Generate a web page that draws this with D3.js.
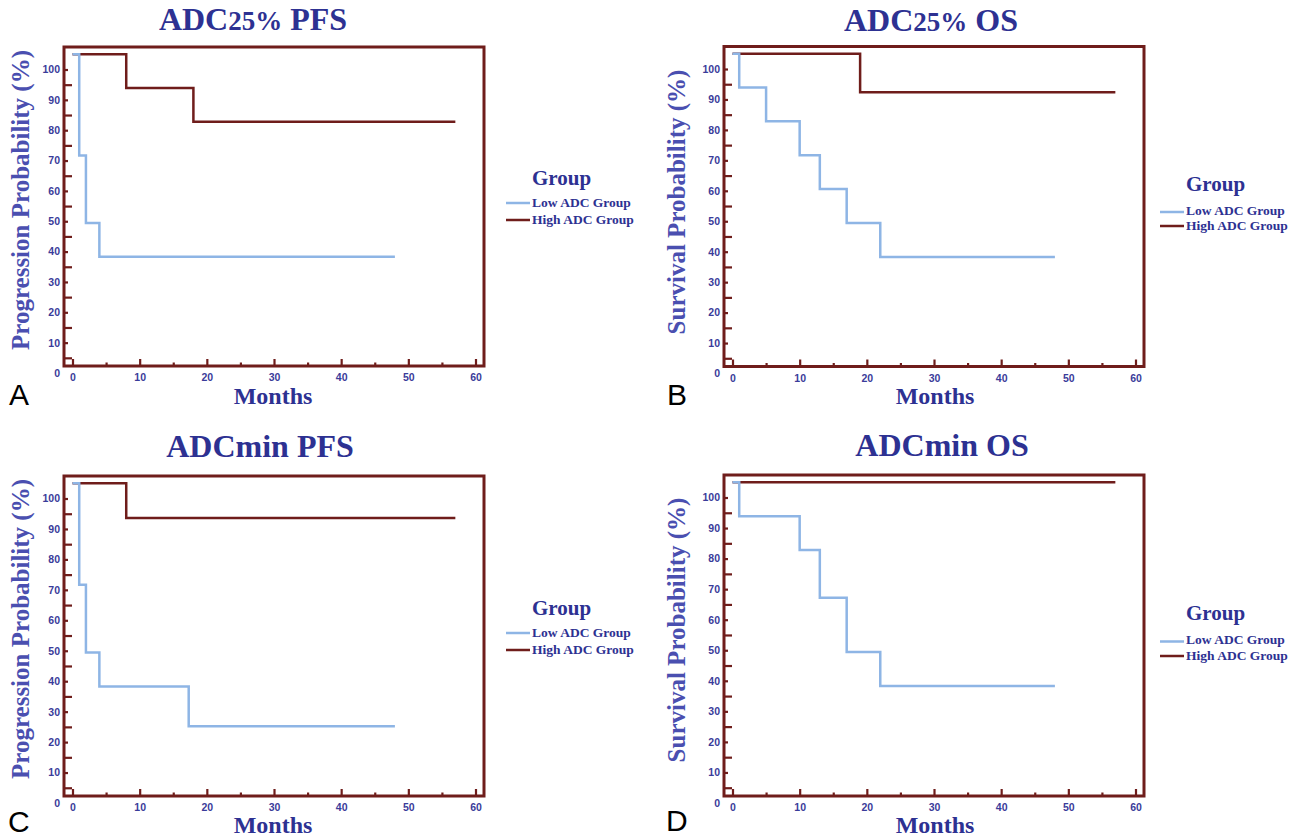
<!DOCTYPE html>
<html>
<head>
<meta charset="utf-8">
<script src="https://cdn.jsdelivr.net/npm/d3@7"></script>
<style>
  body { margin: 0; background: #fff; }
  svg { display: block; }
</style>
</head>
<body>
<svg id="chart" width="1300" height="838"></svg>
<script>
// axis ticks
const monthTicks = [0, 10, 20, 30, 40, 50, 60];
const monthMinor = [5, 15, 25, 35, 45, 55];
const probTicks = [0, 10, 20, 30, 40, 50, 60, 70, 80, 90, 100];
const probMinor = [5, 15, 25, 35, 45, 55, 65, 75, 85, 95];

const groups = ["Low ADC Group", "High ADC Group"];

// step curves (months, probability)
const aLowT = [0, 1, 2, 4, 48];
const aLowP = [105, 71.7, 49.4, 38.3, 38.3];
const aHighT = [0, 8, 18, 57];
const aHighP = [105, 93.9, 82.8, 82.8];

const bLowT = [0, 1, 5, 10, 13, 17, 22, 48];
const bLowP = [105, 93.9, 82.8, 71.7, 60.6, 49.4, 38.3, 38.3];
const bHighT = [0, 19, 57];
const bHighP = [105, 92.4, 92.4];

const cLowT = [0, 1, 2, 4, 17.3, 48];
const cLowP = [105, 71.7, 49.4, 38.3, 25.2, 25.2];
const cHighT = [0, 8, 57];
const cHighP = [105, 93.6, 93.6];

const dLowT = [0, 1, 10, 13, 17, 22, 48];
const dLowP = [105, 93.9, 82.8, 67.2, 49.4, 38.3, 38.3];
const dHighT = [0, 57];
const dHighP = [105, 105];

const navy = "#2d3192";
const frameColor = "#6f1d1b";
const lowColor = "#8eb5e5";

const panels = [
  {letter: "A", t1: "ADC", sub: "25%", t2: " PFS", ytitle: "Progression Probability (%)",
   low: [aLowT, aLowP], high: [aHighT, aHighP],
   left: 64, right: 484, top: 47, bottom: 366,
   titleX: 253, titleY: 30, ytX: 28.5, ytY: 200, mX: 273, mY: 404, letX: 9, letY: 405,
   leg: {x0: 506, x1: 530, tx: 532, gy: 185, ly: [206.5, 223.5], lineY: [203, 220]}},
  {letter: "B", t1: "ADC", sub: "25%", t2: " OS", ytitle: "Survival Probability (%)",
   low: [bLowT, bLowP], high: [bHighT, bHighP],
   left: 724, right: 1144, top: 46.5, bottom: 366.5,
   titleX: 931, titleY: 30.5, ytX: 685, ytY: 202, mX: 935, mY: 404, letX: 667, letY: 405,
   leg: {x0: 1160, x1: 1184, tx: 1186, gy: 191, ly: [214.5, 230], lineY: [212, 226]}},
  {letter: "C", t1: "ADCmin", sub: "", t2: " PFS", ytitle: "Progression Probability (%)",
   low: [cLowT, cLowP], high: [cHighT, cHighP],
   left: 64, right: 484, top: 476, bottom: 796,
   titleX: 260, titleY: 457, ytX: 29, ytY: 629, mX: 273, mY: 833, letX: 8, letY: 832,
   leg: {x0: 506, x1: 530, tx: 532, gy: 615, ly: [636.5, 653.5], lineY: [633, 650]}},
  {letter: "D", t1: "ADCmin", sub: "", t2: " OS", ytitle: "Survival Probability (%)",
   low: [dLowT, dLowP], high: [dHighT, dHighP],
   left: 724, right: 1144, top: 475, bottom: 796,
   titleX: 942, titleY: 456, ytX: 685, ytY: 630, mX: 935, mY: 833, letX: 666, letY: 831,
   leg: {x0: 1160, x1: 1184, tx: 1186, gy: 620, ly: [644, 660], lineY: [641.5, 656]}}
];

const svg = d3.select("#chart");

function toPoints(pair) {
  return pair[0].map((t, i) => ({t: t, p: pair[1][i]}));
}

function drawPanel(cfg) {
  const g = svg.append("g");

  const x = d3.scaleLinear().domain([0, 60]).range([cfg.left + 8.5, cfg.right - 8.5]);
  const y = d3.scaleLinear().domain([0, 100]).range([cfg.bottom + 7, cfg.top + 22.5]);

  // y axis, labelled ticks short, minor ticks long (inward)
  const yMajor = g.append("g")
    .attr("transform", `translate(${cfg.left},0)`)
    .call(d3.axisLeft(y).tickValues(probTicks).tickSize(-4).tickPadding(4));
  yMajor.select(".domain").remove();
  yMajor.selectAll(".tick").filter(d => d === 0).select("line").remove();

  const yMin = g.append("g")
    .attr("transform", `translate(${cfg.left},0)`)
    .call(d3.axisLeft(y).tickValues(probMinor).tickSize(-8).tickFormat(""));
  yMin.select(".domain").remove();

  // x axis, ticks point up from the bottom frame
  const xMajor = g.append("g")
    .attr("transform", `translate(0,${cfg.bottom})`)
    .call(d3.axisBottom(x).tickValues(monthTicks).tickSize(-7).tickPadding(8));
  xMajor.select(".domain").remove();

  const xMin = g.append("g")
    .attr("transform", `translate(0,${cfg.bottom})`)
    .call(d3.axisBottom(x).tickValues(monthMinor).tickSize(-3.5).tickFormat(""));
  xMin.select(".domain").remove();

  g.selectAll(".tick line").attr("stroke", frameColor).attr("stroke-width", 2.2);
  g.selectAll(".tick text")
    .attr("fill", "#3a3c9a")
    .style("font-family", "'Liberation Sans', Arial, sans-serif")
    .style("font-weight", "bold")
    .style("font-size", "10.5px");

  // frame
  g.append("rect")
    .attr("x", cfg.left).attr("y", cfg.top)
    .attr("width", cfg.right - cfg.left).attr("height", cfg.bottom - cfg.top)
    .attr("fill", "none").attr("stroke", frameColor).attr("stroke-width", 3);

  const line = d3.line()
    .x(d => x(d.t))
    .y(d => y(d.p))
    .curve(d3.curveStepAfter);

  g.append("path").datum(toPoints(cfg.high))
    .attr("d", line).attr("fill", "none")
    .attr("stroke", frameColor).attr("stroke-width", 2.5);

  g.append("path").datum(toPoints(cfg.low))
    .attr("d", line).attr("fill", "none")
    .attr("stroke", lowColor).attr("stroke-width", 2.5);

  // title
  const title = g.append("text")
    .attr("x", cfg.titleX).attr("y", cfg.titleY)
    .attr("text-anchor", "middle")
    .attr("fill", navy)
    .style("font-family", "'Liberation Serif', 'Times New Roman', serif")
    .style("font-weight", "bold")
    .style("font-size", "32px");
  title.append("tspan").text(cfg.t1);
  if (cfg.sub) title.append("tspan").style("font-size", "27px").text(cfg.sub);
  title.append("tspan").text(cfg.t2);

  // axis titles
  g.append("text")
    .attr("transform", `translate(${cfg.ytX},${cfg.ytY}) rotate(-90)`)
    .attr("text-anchor", "middle")
    .attr("fill", "#4a4fb0")
    .style("font-family", "'Liberation Serif', 'Times New Roman', serif")
    .style("font-weight", "bold")
    .style("font-size", "25px")
    .text(cfg.ytitle);

  g.append("text")
    .attr("x", cfg.mX).attr("y", cfg.mY)
    .attr("text-anchor", "middle")
    .attr("fill", navy)
    .style("font-family", "'Liberation Serif', 'Times New Roman', serif")
    .style("font-weight", "bold")
    .style("font-size", "24px")
    .text("Months");

  // panel letter
  g.append("text")
    .attr("x", cfg.letX).attr("y", cfg.letY)
    .attr("fill", "#000")
    .style("font-family", "'Liberation Sans', Arial, sans-serif")
    .style("font-size", "30px")
    .text(cfg.letter);

  // legend
  const leg = cfg.leg;
  g.append("text")
    .attr("x", leg.tx).attr("y", leg.gy)
    .attr("fill", navy)
    .style("font-family", "'Liberation Serif', 'Times New Roman', serif")
    .style("font-weight", "bold")
    .style("font-size", "21px")
    .text("Group");

  groups.forEach((name, i) => {
    g.append("line")
      .attr("x1", leg.x0).attr("x2", leg.x1)
      .attr("y1", leg.lineY[i]).attr("y2", leg.lineY[i])
      .attr("stroke", i === 0 ? lowColor : frameColor)
      .attr("stroke-width", 2.5);
    g.append("text")
      .attr("x", leg.tx).attr("y", leg.ly[i])
      .attr("fill", navy)
      .style("font-family", "'Liberation Serif', 'Times New Roman', serif")
      .style("font-weight", "bold")
      .style("font-size", "13.5px")
      .text(name);
  });
}

panels.forEach(drawPanel);
</script>
</body>
</html>
